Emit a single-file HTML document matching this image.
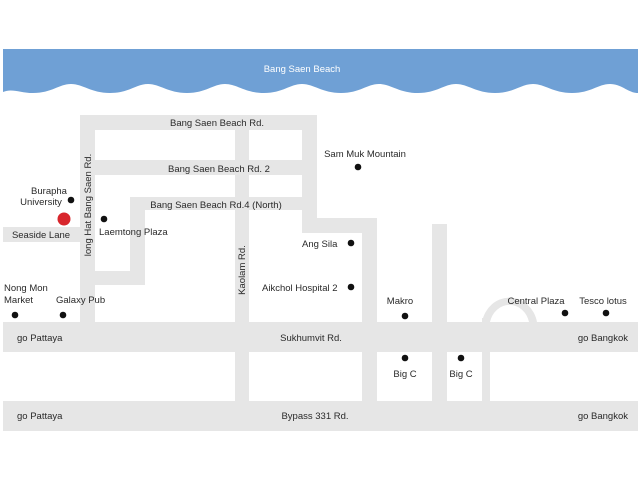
<!DOCTYPE html>
<html><head><meta charset="utf-8"><style>
html,body{margin:0;padding:0;background:#fff;}
text{font-family:"Liberation Sans",sans-serif;font-size:9.5px;fill:#2a2a2a;}
</style></head><body>
<svg width="640" height="480" viewBox="0 0 640 480" xmlns="http://www.w3.org/2000/svg">
<rect width="640" height="480" fill="#fff"/>
<path d="M3,49 H638 V93 C628,93 622,84 610,84 C598,84 591,93 572,93 C553,93 545,84 533,84 C521,84 514,93 495,93 C476,93 468,84 456,84 C444,84 437,93 418,93 C399,93 391,84 379,84 C367,84 360,93 341,93 C322,93 314,84 302,84 C290,84 283,93 264,93 C245,93 237,84 225,84 C213,84 206,93 187,93 C168,93 160,84 148,84 C136,84 129,93 110,93 C91,93 83,84 71,84 C59,84 52,93 33,93 C20,93 12,88 3,92 Z" fill="#6fa0d5"/>
<text x="302" y="72" text-anchor="middle" style="fill:#fff">Bang Saen Beach</text>
<g fill="#e6e6e6">
<rect x="80" y="115" width="237" height="15"/>
<rect x="80" y="115" width="15" height="210"/>
<rect x="95" y="160" width="207" height="15"/>
<rect x="302" y="115" width="15" height="118"/>
<rect x="302" y="218" width="75" height="15"/>
<rect x="362" y="218" width="15" height="183"/>
<rect x="130" y="197" width="172" height="13"/>
<rect x="130" y="197" width="15" height="88"/>
<rect x="95" y="271" width="50" height="14"/>
<rect x="235" y="115" width="14" height="290"/>
<rect x="3" y="227" width="77" height="15"/>
<rect x="3" y="322" width="635" height="30"/>
<rect x="3" y="401" width="635" height="30"/>
<rect x="432" y="224" width="15" height="180"/>
<rect x="482" y="318" width="8" height="86"/>
</g>
<path d="M482,322 A28,30 0 0 1 537,322 L529,322 A20,22 0 0 0 490,322 Z" fill="#e6e6e6"/>
<text x="217" y="126" text-anchor="middle">Bang Saen Beach Rd.</text>
<text x="219" y="172" text-anchor="middle">Bang Saen Beach Rd. 2</text>
<text x="216" y="208" text-anchor="middle">Bang Saen Beach Rd.4 (North)</text>
<text x="91" y="205" text-anchor="middle" transform="rotate(-90 91 205)">long Hat Bang Saen Rd.</text>
<text x="245" y="270" text-anchor="middle" transform="rotate(-90 245 270)">Kaolam Rd.</text>
<text x="41" y="238" text-anchor="middle">Seaside Lane</text>
<text x="49" y="194" text-anchor="middle">Burapha</text>
<text x="41" y="205" text-anchor="middle">University</text>
<text x="99" y="235">Laemtong Plaza</text>
<text x="4" y="291">Nong Mon</text>
<text x="4" y="303">Market</text>
<text x="56" y="303">Galaxy Pub</text>
<text x="365" y="157" text-anchor="middle">Sam Muk Mountain</text>
<text x="302" y="247">Ang Sila</text>
<text x="262" y="291">Aikchol Hospital 2</text>
<text x="400" y="304" text-anchor="middle">Makro</text>
<text x="536" y="304" text-anchor="middle">Central Plaza</text>
<text x="603" y="304" text-anchor="middle">Tesco lotus</text>
<text x="405" y="377" text-anchor="middle">Big C</text>
<text x="461" y="377" text-anchor="middle">Big C</text>
<text x="17" y="341">go Pattaya</text>
<text x="311" y="341" text-anchor="middle">Sukhumvit Rd.</text>
<text x="628" y="341" text-anchor="end">go Bangkok</text>
<text x="17" y="419">go Pattaya</text>
<text x="315" y="419" text-anchor="middle">Bypass 331 Rd.</text>
<text x="628" y="419" text-anchor="end">go Bangkok</text>
<g fill="#111">
<circle cx="71" cy="200" r="3.3"/>
<circle cx="104" cy="219" r="3.3"/>
<circle cx="15" cy="315" r="3.3"/>
<circle cx="63" cy="315" r="3.3"/>
<circle cx="358" cy="167" r="3.3"/>
<circle cx="351" cy="243" r="3.3"/>
<circle cx="351" cy="287" r="3.3"/>
<circle cx="405" cy="316" r="3.3"/>
<circle cx="565" cy="313" r="3.3"/>
<circle cx="606" cy="313" r="3.3"/>
<circle cx="405" cy="358" r="3.3"/>
<circle cx="461" cy="358" r="3.3"/>
</g>
<circle cx="64" cy="219" r="6.5" fill="#d8262c"/>
</svg>
</body></html>
